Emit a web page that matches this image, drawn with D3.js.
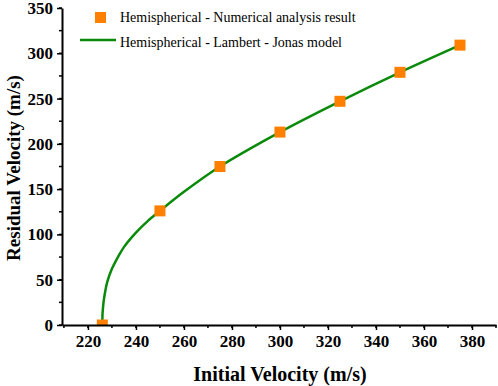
<!DOCTYPE html>
<html><head><meta charset="utf-8">
<script src="https://cdn.jsdelivr.net/npm/d3@7"></script>
<style>body{margin:0;background:#fff}svg{display:block}</style>
</head><body>
<script>
const pointVi = [226, 250, 275, 300, 325, 350, 375];
const pointVr = [0, 126, 175, 213, 247, 279, 309];
const modelVi = [226, 226.1, 226.5, 227, 228, 230, 232.5, 235, 240, 245, 250, 260, 275, 300, 325, 350, 375];
const modelVr = [0, 13, 25, 34, 47, 62, 75, 86, 102, 115, 126, 147, 175, 213, 247, 279, 309];
const xTicks = [220, 240, 260, 280, 300, 320, 340, 360, 380];
const yTicks = [0, 50, 100, 150, 200, 250, 300, 350];
const legendLabels = ["Hemispherical - Numerical analysis result", "Hemispherical - Lambert - Jonas model"];

const W = 498, H = 386;
const svg = d3.select("body").append("svg").attr("width", W).attr("height", H);
const x = d3.scaleLinear().domain([209.2, 390]).range([62, 496]);
const y = d3.scaleLinear().domain([0, 350]).range([325, 8]);

const font = "'Liberation Serif', 'Times New Roman', serif";

svg.append("clipPath").attr("id", "plot").append("rect")
  .attr("x", 62).attr("y", 0).attr("width", W - 62).attr("height", 325);

// minor ticks
const xMinor = d3.range(210, 391, 10);
const yMinor = d3.range(0, 351, 25);
svg.append("g").selectAll("line").data(xMinor).join("line")
  .attr("x1", d => x(d)).attr("x2", d => x(d)).attr("y1", 325).attr("y2", 328)
  .attr("stroke", "#000").attr("stroke-width", 1.5);
svg.append("g").selectAll("line").data(yMinor).join("line")
  .attr("x1", 62).attr("x2", 59).attr("y1", d => y(d)).attr("y2", d => y(d))
  .attr("stroke", "#000").attr("stroke-width", 1.5);

// model line
const modelData = modelVi.map((v, i) => [v, modelVr[i]]);
svg.append("path").datum(modelData).attr("clip-path", "url(#plot)")
  .attr("d", d3.line().x(d => x(d[0])).y(d => y(d[1])).curve(d3.curveCatmullRom.alpha(0.5)))
  .attr("fill", "none").attr("stroke", "#0a8a0a").attr("stroke-width", 2.5);

// points
const ms = 11;
svg.append("g").attr("clip-path", "url(#plot)").selectAll("rect")
  .data(pointVi.map((v, i) => [v, pointVr[i]])).join("rect")
  .attr("x", d => x(d[0]) - ms / 2).attr("y", d => y(d[1]) - ms / 2)
  .attr("width", ms).attr("height", ms).attr("fill", "#ff8000");

const xAxis = svg.append("g").attr("transform", "translate(0,325)")
  .call(d3.axisBottom(x).tickValues(xTicks).tickSize(5).tickSizeOuter(0).tickPadding(5));
const yAxis = svg.append("g").attr("transform", "translate(62,0)")
  .call(d3.axisLeft(y).tickValues(yTicks).tickSize(5).tickSizeOuter(0).tickPadding(4));
[xAxis, yAxis].forEach(g => {
  g.attr("font-family", font);
  g.select(".domain").attr("stroke-width", 2);
  g.selectAll(".tick line").attr("stroke-width", 1.5);
  g.selectAll("text").attr("font-family", font).attr("font-weight", "bold")
    .attr("font-size", 17).attr("fill", "#000");
});

// legend
svg.append("rect").attr("x", 95).attr("y", 12).attr("width", 11).attr("height", 11).attr("fill", "#ff8000");
svg.append("line").attr("x1", 80).attr("x2", 116).attr("y1", 40).attr("y2", 40)
  .attr("stroke", "#0a8a0a").attr("stroke-width", 2.5);
svg.append("g").selectAll("text").data(legendLabels).join("text")
  .attr("x", 120).attr("y", (d, i) => 22 + i * 25)
  .attr("font-family", font).attr("font-size", 14).attr("fill", "#000").text(d => d);

// axis titles
svg.append("text").attr("x", 280).attr("y", 381).attr("text-anchor", "middle")
  .attr("font-family", font).attr("font-weight", "bold").attr("font-size", 20)
  .text("Initial Velocity (m/s)");
svg.append("text").attr("transform", "translate(20,168) rotate(-90)").attr("text-anchor", "middle")
  .attr("font-family", font).attr("font-weight", "bold").attr("font-size", 19)
  .text("Residual Velocity (m/s)");
</script>
</body></html>
